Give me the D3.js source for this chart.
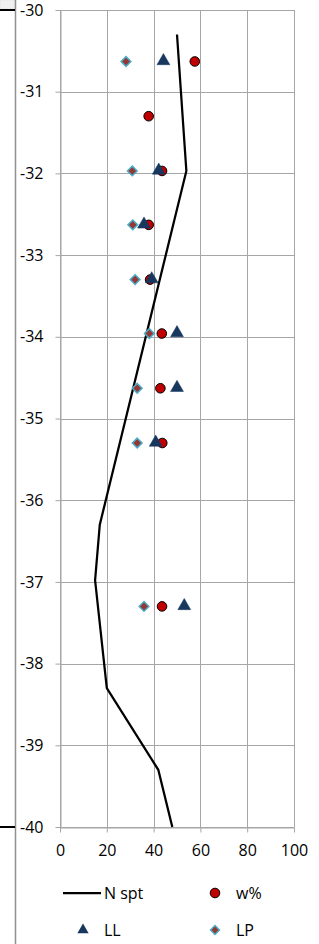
<!DOCTYPE html>
<html>
<head>
<meta charset="utf-8">
<script src="https://cdn.jsdelivr.net/npm/d3@7"></script>
<style>
  body { margin: 0; background: #fff; }
  svg { display: block; font-family: "Open Sans", "Liberation Sans", sans-serif; }
</style>
</head>
<body>
<svg></svg>
<script>
// N spt profile
const nsptDepth = [-30.3, -31.97, -36.3, -36.98, -38.3, -39.3, -40];
const nsptValue = [50, 54, 17, 15, 20, 42, 48];

// lab samples
const sampleDepth = [-30.63, -31.3, -31.97, -32.63, -33.3, -33.96, -34.63, -35.3, -37.3];
const wValues  = [57.6, 37.9, 43.6, 37.9, 38.5, 43.5, 42.9, 43.7, 43.6];
const llValues = [44.2, null, 42.2, 35.9, 39.2, 50.0, 50.0, 40.9, 53.1];
const lpValues = [28.2, null, 30.9, 31.1, 32.1, 38.2, 33.0, 33.0, 35.9];

const xTicks = [0, 20, 40, 60, 80, 100];
const yTicks = [-30, -31, -32, -33, -34, -35, -36, -37, -38, -39, -40];

const width = 319;
const height = 944;
const fontSize = '16px';

const svg = d3.select('svg')
    .attr('width', width)
    .attr('height', height);

const x = d3.scaleLinear().domain([0, 100]).range([60, 294]);
const y = d3.scaleLinear().domain([-40, -30]).range([827, 10]);

// frame bits on the left
svg.append('rect')
    .attr('x', 0).attr('y', 0).attr('width', 15).attr('height', 9)
    .attr('fill', '#f0f0f0').attr('stroke', '#d9d9d9').attr('stroke-width', 0.5);
svg.append('line')
    .attr('x1', 15.5).attr('x2', 15.5).attr('y1', 0).attr('y2', height)
    .attr('stroke', '#909090').attr('stroke-width', 1.5);
[-30, -40].forEach(v => {
    svg.append('line')
        .attr('x1', 0).attr('x2', 15).attr('y1', y(v)).attr('y2', y(v))
        .attr('stroke', '#000').attr('stroke-width', 2);
});

// gridlines
const grid = svg.append('g').attr('stroke', '#a6a6a6').attr('stroke-width', 1);
grid.selectAll('.gx')
    .data(xTicks)
    .enter().append('line')
    .attr('x1', d => Math.round(x(d)) + 0.5)
    .attr('x2', d => Math.round(x(d)) + 0.5)
    .attr('y1', y(-30)).attr('y2', y(-40));
grid.selectAll('.gy')
    .data(yTicks)
    .enter().append('line')
    .attr('x1', x(0)).attr('x2', x(100))
    .attr('y1', d => Math.round(y(d)) + 0.5)
    .attr('y2', d => Math.round(y(d)) + 0.5);

// axes
const xAxis = svg.append('g')
    .attr('transform', `translate(0,${Math.round(y(-40)) + 0.5})`)
    .call(d3.axisBottom(x).tickValues(xTicks).tickSizeInner(5).tickSizeOuter(0).tickPadding(12));
const yAxis = svg.append('g')
    .attr('transform', `translate(${Math.round(x(0)) + 0.5},0)`)
    .call(d3.axisLeft(y).tickValues(yTicks).tickSizeInner(5).tickSizeOuter(0).tickPadding(12));
[xAxis, yAxis].forEach(g => {
    g.select('.domain').attr('stroke', '#a6a6a6');
    g.selectAll('.tick line').attr('stroke', '#a6a6a6');
    g.selectAll('.tick text')
        .attr('fill', '#000')
        .style('font-size', fontSize)
        .style('font-family', '"Open Sans", "Liberation Sans", sans-serif');
});
yAxis.selectAll('.tick text').text(d => String(d));

// N spt line
const nspt = nsptDepth.map((d, i) => ({ depth: d, value: nsptValue[i] }));
svg.append('path')
    .datum(nspt)
    .attr('fill', 'none')
    .attr('stroke', '#000')
    .attr('stroke-width', 2.25)
    .attr('d', d3.line().x(d => x(d.value)).y(d => y(d.depth)));

const samples = sampleDepth.map((d, i) => ({
    depth: d, w: wValues[i], ll: llValues[i], lp: lpValues[i]
}));

const diamond = d3.symbol().type(d3.symbolDiamond2).size(60);
const triangle = d3.symbol().type(d3.symbolTriangle).size(72);

// LP diamonds
svg.append('g').selectAll('path')
    .data(samples.filter(d => d.lp != null))
    .enter().append('path')
    .attr('d', diamond)
    .attr('transform', d => `translate(${x(d.lp)},${y(d.depth)})`)
    .attr('fill', '#953735')
    .attr('stroke', '#4bacc6')
    .attr('stroke-width', 1.5);

// w% circles
svg.append('g').selectAll('circle')
    .data(samples.filter(d => d.w != null))
    .enter().append('circle')
    .attr('cx', d => x(d.w))
    .attr('cy', d => y(d.depth))
    .attr('r', 4.8)
    .attr('fill', '#c00000')
    .attr('stroke', '#000')
    .attr('stroke-width', 1);

// LL triangles
svg.append('g').selectAll('path')
    .data(samples.filter(d => d.ll != null))
    .enter().append('path')
    .attr('d', triangle)
    .attr('transform', d => `translate(${x(d.ll)},${y(d.depth) - 0.5})`)
    .attr('fill', '#17375e')
    .attr('stroke', '#17375e')
    .attr('stroke-width', 0.5);

// legend
const legend = svg.append('g')
    .style('font-size', fontSize);
legend.append('line')
    .attr('x1', 63).attr('x2', 101).attr('y1', 893).attr('y2', 893)
    .attr('stroke', '#000').attr('stroke-width', 2.25);
legend.append('text').attr('x', 104).attr('y', 893).attr('dy', '0.35em').text('N spt');
legend.append('circle')
    .attr('cx', 215).attr('cy', 893).attr('r', 4.8)
    .attr('fill', '#c00000').attr('stroke', '#000');
legend.append('text').attr('x', 236).attr('y', 893).attr('dy', '0.35em').text('w%');
legend.append('path')
    .attr('d', d3.symbol().type(d3.symbolTriangle).size(55))
    .attr('transform', 'translate(83,930)')
    .attr('fill', '#17375e');
legend.append('text').attr('x', 104).attr('y', 930).attr('dy', '0.35em').text('LL');
legend.append('path')
    .attr('d', d3.symbol().type(d3.symbolDiamond2).size(50))
    .attr('transform', 'translate(215,930)')
    .attr('fill', '#953735').attr('stroke', '#4bacc6').attr('stroke-width', 1.5);
legend.append('text').attr('x', 236).attr('y', 930).attr('dy', '0.35em').text('LP');
</script>
</body>
</html>
